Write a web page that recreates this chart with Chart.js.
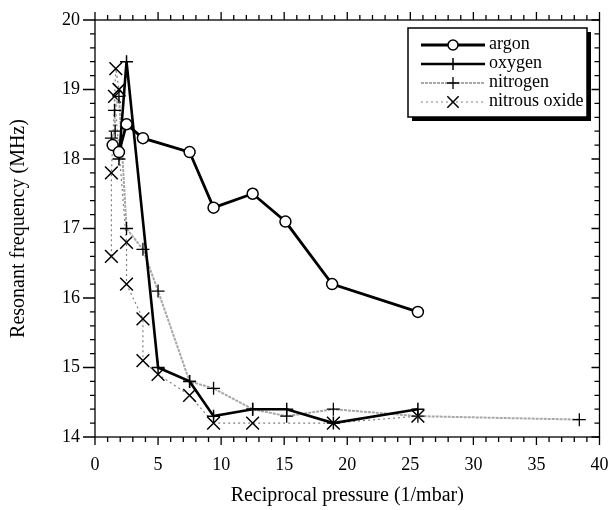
<!DOCTYPE html>
<html>
<head>
<meta charset="utf-8">
<script src="https://cdn.jsdelivr.net/npm/chart.js@4/dist/chart.umd.min.js"></script>
<style>
  body { margin: 0; background: #fff; }
  #wrap { width: 610px; height: 510px; }
</style>
</head>
<body>
<div id="wrap"><canvas id="freqChart" width="610" height="510"></canvas></div>
<script>
// ------ data ------//
var argonX = [1.4, 1.9, 2.5, 3.8, 7.5, 9.4, 12.5, 15.1, 18.8, 25.6]
var argonY = [18.2, 18.1, 18.5, 18.3, 18.1, 17.3, 17.5, 17.1, 16.2, 15.8]

var oxygenX = [1.9, 2.5, 5.0, 7.5, 9.4, 12.5, 15.2, 18.9, 25.6]
var oxygenY = [18.0, 19.4, 15.0, 14.8, 14.3, 14.4, 14.4, 14.2, 14.4]

var nitrogenX = [1.3, 1.6, 1.55, 1.9, 2.5, 3.8, 5.0, 7.5, 9.4, 12.5, 15.2, 18.9, 25.6, 38.4]
var nitrogenY = [18.3, 18.4, 18.7, 18.9, 17.0, 16.7, 16.1, 14.8, 14.7, 14.4, 14.3, 14.4, 14.3, 14.25]

var nitrousX = [1.3, 1.3, 1.65, 1.9, 1.55, 2.5, 2.5, 3.8, 3.8, 5.0, 7.5, 9.4, 12.5, 18.9, 25.6]
var nitrousY = [16.6, 17.8, 19.3, 19.0, 18.9, 16.8, 16.2, 15.7, 15.1, 14.9, 14.6, 14.2, 14.2, 14.2, 14.3]

var seriesNames = ['argon', 'oxygen', 'nitrogen', 'nitrous oxide']
var xTicks = [0, 5, 10, 15, 20, 25, 30, 35, 40]
var yTicks = [14, 15, 16, 17, 18, 19, 20]

function pts(xs, ys) {
	return xs.map(function (x, i) { return { x: x, y: ys[i] } })
}

var serif = "'Liberation Serif', 'DejaVu Serif', serif"

var data = {
	datasets: [{
		label: seriesNames[0],
		data: pts(argonX, argonY),
		borderColor: '#000',
		borderWidth: 2.8,
		pointStyle: 'circle',
		pointRadius: 5.5,
		pointBorderWidth: 1.5,
		pointBackgroundColor: '#fff',
		pointBorderColor: '#000',
		order: 0
	}, {
		label: seriesNames[1],
		data: pts(oxygenX, oxygenY),
		borderColor: '#000',
		borderWidth: 2.6,
		pointStyle: 'cross',
		pointRadius: 6.5,
		pointBorderWidth: 1.5,
		pointBorderColor: '#000',
		order: 1
	}, {
		label: seriesNames[2],
		data: pts(nitrogenX, nitrogenY),
		borderColor: '#a8a8a8',
		borderWidth: 2,
		borderDash: [3, 1],
		pointStyle: 'cross',
		pointRadius: 6.5,
		pointBorderWidth: 1.3,
		pointBorderColor: '#000',
		order: 2
	}, {
		label: seriesNames[3],
		data: pts(nitrousX, nitrousY),
		borderColor: '#808080',
		borderWidth: 1.2,
		borderDash: [2, 3],
		pointStyle: 'crossRot',
		pointRadius: 9,
		pointBorderWidth: 1.5,
		pointBorderColor: '#000',
		order: 3
	}]
}

// ticks on all four sides of the frame, with minor ticks
var frameTicks = {
	id: 'frameTicks',
	afterDraw: function (chart) {
		var c = chart.ctx, a = chart.chartArea
		var xs = chart.scales.x, ys = chart.scales.y
		c.save()
		c.strokeStyle = '#000'
		c.lineWidth = 1.3
		c.strokeRect(a.left, a.top, a.right - a.left, a.bottom - a.top)
		c.beginPath()
		for (var v = 0; v <= 40; v++) {
			var px = xs.getPixelForValue(v)
			var len = v % 5 === 0 ? 8 : 5
			c.moveTo(px, a.bottom); c.lineTo(px, a.bottom + len)
			c.moveTo(px, a.top); c.lineTo(px, a.top - len)
		}
		for (var k = 0; k <= 30; k++) {
			var val = 14 + k * 0.2
			var py = ys.getPixelForValue(val)
			var l2 = k % 5 === 0 ? 12 : 5
			c.moveTo(a.left, py); c.lineTo(a.left - l2, py)
			c.moveTo(a.right, py); c.lineTo(a.right - (k % 5 === 0 ? 8 : 5), py)
		}
		c.stroke()
		c.restore()
	}
}

// boxed legend with shadow, top right
var boxLegend = {
	id: 'boxLegend',
	afterDraw: function (chart) {
		var c = chart.ctx
		var bx = 408, by = 28, bw = 179, bh = 89
		c.save()
		c.fillStyle = '#000'
		c.fillRect(bx + 4, by + 4, bw, bh)
		c.fillStyle = '#fff'
		c.fillRect(bx, by, bw, bh)
		c.strokeStyle = '#000'
		c.lineWidth = 1.5
		c.strokeRect(bx, by, bw, bh)
		chart.data.datasets.forEach(function (ds, i) {
			var y = by + 17 + i * 19
			c.save()
			c.strokeStyle = ds.borderColor
			c.lineWidth = ds.borderWidth
			c.setLineDash(ds.borderDash || [])
			c.beginPath(); c.moveTo(421, y); c.lineTo(485, y); c.stroke()
			c.restore()
			c.lineWidth = ds.pointBorderWidth
			c.strokeStyle = '#000'
			c.fillStyle = ds.pointBackgroundColor || '#fff'
			Chart.helpers.drawPoint(c, { pointStyle: ds.pointStyle, radius: ds.pointStyle === 'circle' ? 5 : (ds.pointStyle === 'crossRot' ? 8 : 6), rotation: 0, borderWidth: ds.pointBorderWidth }, 453, y)
			c.fillStyle = '#000'
			c.font = '18px ' + serif
			c.textBaseline = 'middle'
			c.fillText(ds.label, 489, y - 1)
		})
		c.restore()
	}
}

var options = {
	responsive: false,
	animation: false,
	layout: { padding: { top: 20, right: 10, left: 0, bottom: 0 } },
	plugins: { legend: { display: false }, tooltip: { enabled: false } },
	scales: {
		x: {
			type: 'linear',
			min: 0, max: 40,
			afterFit: function (s) { s.height = 73; s.paddingLeft = 0; s.paddingRight = 0 },
			afterBuildTicks: function (s) { s.ticks = xTicks.map(function (v) { return { value: v } }) },
			grid: { display: false, drawTicks: false },
			border: { display: false },
			ticks: { color: '#000', padding: 17, font: { family: serif, size: 18 }, maxRotation: 0 },
			title: { display: true, text: 'Reciprocal pressure (1/mbar)', color: '#000', font: { family: serif, size: 20 }, padding: { top: 0, bottom: 2 } }
		},
		y: {
			type: 'linear',
			min: 14, max: 20,
			afterFit: function (s) { s.width = 95; s.paddingTop = 0; s.paddingBottom = 0 },
			afterBuildTicks: function (s) { s.ticks = yTicks.map(function (v) { return { value: v } }) },
			grid: { display: false, drawTicks: false },
			border: { display: false },
			ticks: { color: '#000', padding: 15, font: { family: serif, size: 18 } },
			title: { display: true, text: 'Resonant frequency (MHz)', color: '#000', font: { family: serif, size: 20 }, padding: { top: 7, bottom: 0 } }
		}
	},
	elements: { line: { tension: 0, fill: false } }
}

var ctx = document.getElementById('freqChart')
var myChart = new Chart(ctx, {
	type: 'scatter',
	data: data,
	options: options,
	plugins: [frameTicks, boxLegend]
})
myChart.data.datasets.forEach(function (ds) { ds.showLine = true })
myChart.update()
</script>
</body>
</html>
